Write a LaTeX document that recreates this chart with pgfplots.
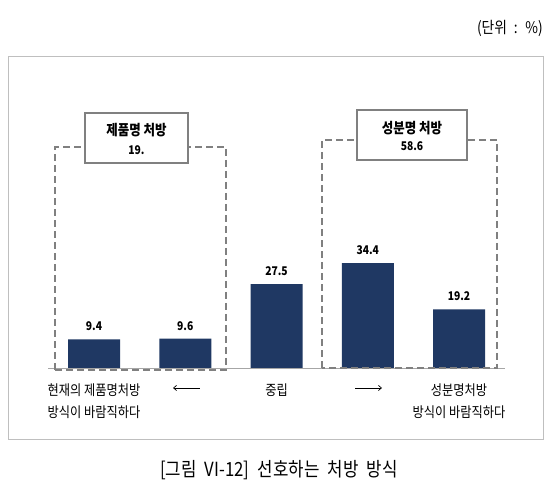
\documentclass[border=0pt]{standalone}
\usepackage{fontspec}
\setmainfont{Noto Sans CJK KR}[FakeStretch=0.86]
\newfontfamily\wide{Noto Sans CJK KR}[FakeStretch=0.86, WordSpace=2.2]
\usepackage{pgfplots}
\pgfplotsset{compat=1.18}
\usetikzlibrary{arrows.meta}
\definecolor{barnavy}{RGB}{31,56,99}
\definecolor{framegray}{RGB}{191,191,191}
\definecolor{dashgray}{RGB}{128,128,128}
\definecolor{basegray}{RGB}{166,166,166}

\begin{document}
\begin{tikzpicture}[x=1pt,y=1pt]
\path[use as bounding box] (0,0) rectangle (550,504);
\draw[framegray, line width=1pt] (8,64) rectangle (543,447);
\node[anchor=east, inner sep=0pt, font=\wide\fontsize{16}{18}\selectfont] at (543,476) {(단위 : \%)};
\node[font=\wide\fontsize{19.5}{21}\selectfont] at (279,34) {[그림 VI-12] 선호하는 처방 방식};

\begin{axis}[
  at={(48.4pt,136pt)}, anchor=south west, scale only axis,
  width=456.25pt, height=305pt,
  xmin=-0.5, xmax=4.5, ymin=0, ymax=100,
  axis line style={draw=none},
  xtick={0,...,4}, ytick=\empty, major tick length=0pt,
  xticklabels={{현재의 제품명처방\\방식이 바람직하다},{},중립,{},{성분명처방\\방식이 바람직하다}},
  xticklabel style={align=center, font=\fontsize{14.2}{22}\selectfont, anchor=north, yshift=-12pt},
  ybar, bar width=52pt,
  /pgf/number format/assume math mode=true,
  nodes near coords,
  nodes near coords style={font=\bfseries\fontsize{12}{14}\selectfont, yshift=5pt},
  clip=false,
]
\addplot[fill=barnavy, draw=none] coordinates {(0,9.4) (1,9.6) (2,27.5) (3,34.4) (4,19.2)};
\draw[basegray, line width=0.8pt] (axis cs:-0.5,0) -- (axis cs:4.5,0);
\end{axis}

% grouping boxes
\draw[dashgray, line width=2.6pt, dash pattern=on 7pt off 4pt] (55,134) rectangle (226,357);
\draw[dashgray, line width=2.6pt, dash pattern=on 7pt off 4pt] (322,136) rectangle (497,364);
\draw[dashgray, line width=1.3pt, fill=white] (85,341) rectangle (188,391);
\draw[dashgray, line width=1.3pt, fill=white] (357,344) rectangle (467,394);
\node[font=\bfseries\fontsize{14.5}{16}\selectfont] at (136.5,374) {제품명 처방};
\node[font=\bfseries\fontsize{12}{14}\selectfont] at (136.5,354) {19.};
\node[font=\bfseries\fontsize{14.5}{16}\selectfont] at (412,376) {성분명 처방};
\node[font=\bfseries\fontsize{12}{14}\selectfont] at (412,358) {58.6};

% direction arrows
\draw[{Straight Barb[length=3pt,width=5pt]}-, line width=0.7pt] (173,116) -- (200,116);
\draw[-{Straight Barb[length=3pt,width=5pt]}, line width=0.7pt] (355,116) -- (382,116);
\end{tikzpicture}
\end{document}
